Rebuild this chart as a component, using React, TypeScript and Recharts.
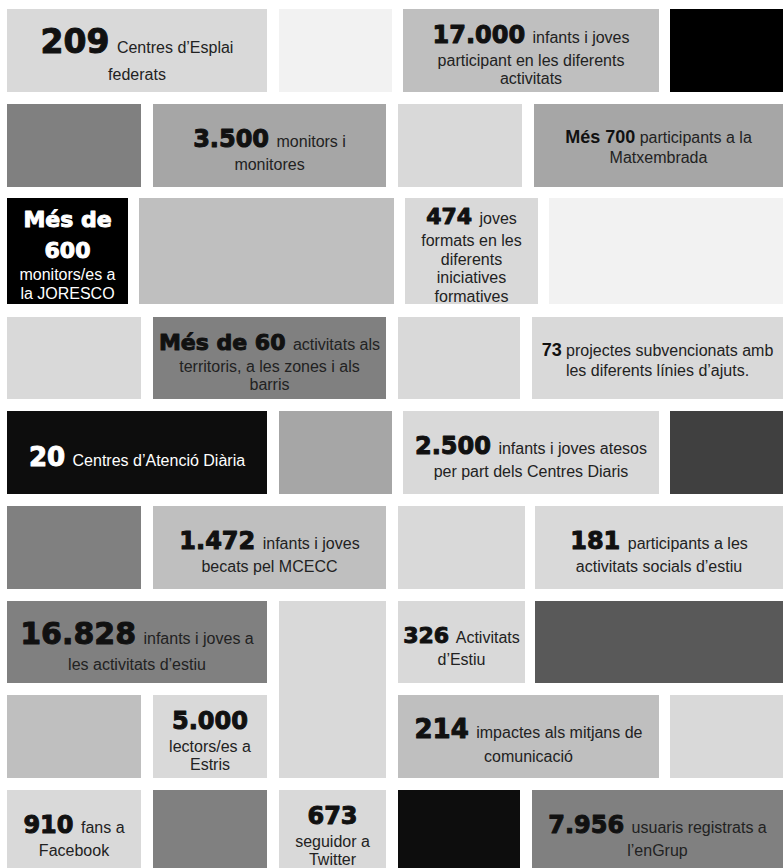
import React from "react";
import { ComposedChart, ReferenceArea, XAxis, YAxis } from "recharts";

// layout space of the mosaic (one unit = one pixel of the 783x868 picture)
const SPACE_W = 783;
const SPACE_H = 868;

// vertical band of each row
const ROWS: [number, number][] = [
  [9, 92],
  [104, 187],
  [198, 304],
  [317, 399],
  [411, 494],
  [506, 589],
  [601, 683],
  [695, 778],
  [790, 873],
];

type Tier = "xxl" | "xl" | "lgp" | "lg" | "md" | "sm";

interface Stat {
  tier: Tier;
  invert?: boolean;
  // [bold figure, rest of the line]
  lines: [string, string][];
}

const STATS: Record<string, Stat> = {
  s209: { tier: "xxl", lines: [["209", "Centres d’Esplai"], ["", "federats"]] },
  s17000: {
    tier: "lg",
    lines: [["17.000", "infants i joves"], ["", "participant en les diferents"], ["", "activitats"]],
  },
  s3500: { tier: "lg", lines: [["3.500", "monitors i"], ["", "monitores"]] },
  s700: { tier: "sm", lines: [["Més 700", "participants a la"], ["", "Matxembrada"]] },
  s600: {
    tier: "md",
    invert: true,
    lines: [["Més de", ""], ["600", ""], ["", "monitors/es a"], ["", "la JORESCO"]],
  },
  s474: {
    tier: "md",
    lines: [["474", "joves"], ["", "formats en les"], ["", "diferents"], ["", "iniciatives"], ["", "formatives"]],
  },
  s60: {
    tier: "md",
    lines: [["Més de 60", "activitats als"], ["", "territoris, a les zones i als"], ["", "barris"]],
  },
  s73: { tier: "sm", lines: [["73", "projectes subvencionats amb"], ["", "les diferents línies d’ajuts."]] },
  s20: { tier: "lgp", invert: true, lines: [["20", "Centres d’Atenció Diària"]] },
  s2500: { tier: "lg", lines: [["2.500", "infants i joves atesos"], ["", "per part dels Centres Diaris"]] },
  s1472: { tier: "lg", lines: [["1.472", "infants i joves"], ["", "becats pel MCECC"]] },
  s181: { tier: "lg", lines: [["181", "participants a les"], ["", "activitats socials d’estiu"]] },
  s16828: { tier: "xl", lines: [["16.828", "infants i joves a"], ["", "les activitats d’estiu"]] },
  s326: { tier: "md", lines: [["326", "Activitats"], ["", "d’Estiu"]] },
  s5000: { tier: "lg", lines: [["5.000", ""], ["", "lectors/es a"], ["", "Estris"]] },
  s214: { tier: "lgp", lines: [["214", "impactes als mitjans de"], ["", "comunicació"]] },
  s910: { tier: "lg", lines: [["910", "fans a"], ["", "Facebook"]] },
  s673: { tier: "lg", lines: [["673", ""], ["", "seguidor a"], ["", "Twitter"]] },
  s7956: { tier: "lg", lines: [["7.956", "usuaris registrats a"], ["", "l’enGrup"]] },
};

interface Cell {
  cols: [number, number];
  rows: [number, number];
  tone: number;
  stat?: string;
}

const CELLS: Cell[] = [
  { cols: [7, 267], rows: [0, 0], tone: 1, stat: "s209" },
  { cols: [279, 392], rows: [0, 0], tone: 0 },
  { cols: [403, 659], rows: [0, 0], tone: 2, stat: "s17000" },
  { cols: [670, 783], rows: [0, 0], tone: 8 },

  { cols: [7, 141], rows: [1, 1], tone: 4 },
  { cols: [153, 386], rows: [1, 1], tone: 3, stat: "s3500" },
  { cols: [398, 522], rows: [1, 1], tone: 1 },
  { cols: [534, 783], rows: [1, 1], tone: 3, stat: "s700" },

  { cols: [7, 128], rows: [2, 2], tone: 8, stat: "s600" },
  { cols: [139, 394], rows: [2, 2], tone: 2 },
  { cols: [405, 538], rows: [2, 2], tone: 1, stat: "s474" },
  { cols: [549, 783], rows: [2, 2], tone: 0 },

  { cols: [7, 141], rows: [3, 3], tone: 1 },
  { cols: [153, 386], rows: [3, 3], tone: 4, stat: "s60" },
  { cols: [398, 520], rows: [3, 3], tone: 1 },
  { cols: [532, 783], rows: [3, 3], tone: 1, stat: "s73" },

  { cols: [7, 267], rows: [4, 4], tone: 7, stat: "s20" },
  { cols: [279, 392], rows: [4, 4], tone: 3 },
  { cols: [403, 659], rows: [4, 4], tone: 1, stat: "s2500" },
  { cols: [670, 783], rows: [4, 4], tone: 6 },

  { cols: [7, 141], rows: [5, 5], tone: 4 },
  { cols: [153, 386], rows: [5, 5], tone: 2, stat: "s1472" },
  { cols: [398, 525], rows: [5, 5], tone: 1 },
  { cols: [535, 783], rows: [5, 5], tone: 1, stat: "s181" },

  { cols: [7, 267], rows: [6, 6], tone: 4, stat: "s16828" },
  { cols: [279, 386], rows: [6, 7], tone: 1 },
  { cols: [398, 525], rows: [6, 6], tone: 1, stat: "s326" },
  { cols: [535, 783], rows: [6, 6], tone: 5 },

  { cols: [7, 141], rows: [7, 7], tone: 2 },
  { cols: [153, 267], rows: [7, 7], tone: 1, stat: "s5000" },
  { cols: [398, 659], rows: [7, 7], tone: 2, stat: "s214" },
  { cols: [670, 783], rows: [7, 7], tone: 1 },

  { cols: [7, 141], rows: [8, 8], tone: 1, stat: "s910" },
  { cols: [153, 267], rows: [8, 8], tone: 4 },
  { cols: [279, 386], rows: [8, 8], tone: 1, stat: "s673" },
  { cols: [398, 520], rows: [8, 8], tone: 7 },
  { cols: [532, 783], rows: [8, 8], tone: 4, stat: "s7956" },
];

const TONES = ["#f2f2f2", "#d9d9d9", "#bfbfbf", "#a6a6a6", "#808080", "#595959", "#404040", "#0d0d0d", "#000000"];

const TIER_SIZE: Record<Tier, number> = { xxl: 33, xl: 30, lgp: 26, lg: 24, md: 22, sm: 18 };

const HEAVY = "'DejaVu Sans', Verdana, sans-serif";
const PLAIN = "'Liberation Sans', Arial, sans-serif";

function StatText({ stat, x, y, width, height }: { stat: Stat; x: number; y: number; width: number; height: number }) {
  const big = TIER_SIZE[stat.tier];
  const small = stat.tier === "sm";
  const bases: number[] = [];
  let cur = 0;
  stat.lines.forEach(([b], i) => {
    if (i > 0) {
      const prevBold = stat.lines[i - 1][0] !== "";
      if (b) cur += big * 1.42;
      else if (prevBold) cur += big * 0.5 + 11;
      else cur += 18.5;
    }
    bases.push(cur);
  });
  const capTop = stat.lines[0][0] ? -big * (small ? 0.72 : 0.73) : -11.5;
  const mid = (capTop + bases[bases.length - 1]) / 2;
  const shift = y + height / 2 + (small ? 1.5 : 4) - mid;
  const cx = x + width / 2;
  const ink = stat.invert ? "#ffffff" : "#111111";
  const textInk = stat.invert ? "#ffffff" : "#222222";

  return (
    <g>
      {stat.lines.map(([b, t], i) => (
        <text key={i} x={cx} y={shift + bases[i]} textAnchor="middle">
          {b ? (
            <tspan
              fontFamily={small ? PLAIN : HEAVY}
              fontWeight="bold"
              fontSize={big}
              fill={ink}
              stroke={small ? "none" : ink}
              strokeWidth={small ? 0 : 1}
              strokeLinejoin="round"
            >
              {b}
            </tspan>
          ) : null}
          {t ? (
            <tspan fontFamily={PLAIN} fontSize={16} fill={textInk} dx={b ? (small ? 0 : 3) : 0}>
              {b ? " " + t : t}
            </tspan>
          ) : null}
        </text>
      ))}
    </g>
  );
}

export default function App() {
  return (
    <div style={{ position: "absolute", left: 0, top: 0, width: SPACE_W, height: SPACE_H, background: "#ffffff" }}>
      <ComposedChart width={SPACE_W} height={SPACE_H} data={[]} margin={{ top: 0, right: 0, bottom: 0, left: 0 }}>
        <XAxis type="number" dataKey="x" domain={[0, SPACE_W]} hide allowDataOverflow />
        <YAxis type="number" dataKey="y" domain={[0, SPACE_H]} reversed hide allowDataOverflow />
        {CELLS.map((c, i) => {
          const stat = c.stat ? STATS[c.stat] : undefined;
          const fill = TONES[c.tone];
          return (
            <ReferenceArea
              key={i}
              x1={c.cols[0]}
              x2={c.cols[1]}
              y1={ROWS[c.rows[0]][0]}
              y2={ROWS[c.rows[1]][1]}
              ifOverflow="hidden"
              fill={fill}
              fillOpacity={1}
              stroke="none"
              shape={(p: any) => (
                <g>
                  <rect x={p.x} y={p.y} width={p.width} height={p.height} fill={fill} />
                  {stat ? <StatText stat={stat} x={p.x} y={p.y} width={p.width} height={p.height} /> : null}
                </g>
              )}
            />
          );
        })}
      </ComposedChart>
    </div>
  );
}
